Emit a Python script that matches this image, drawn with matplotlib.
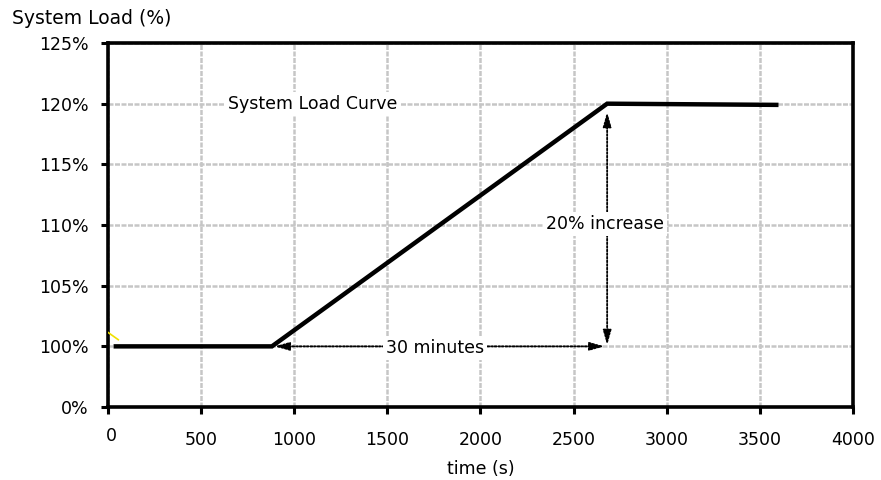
import matplotlib
matplotlib.use("Agg")
import matplotlib.pyplot as plt
from matplotlib.transforms import ScaledTranslation

# System load profile: flat, 30-minute ramp, then flat at the higher level
time_s = [30, 880, 2680, 3600]
load_pct = [100, 100, 120, 119.9]

x_ticks = [0, 500, 1000, 1500, 2000, 2500, 3000, 3500, 4000]
y_ticks = [95, 100, 105, 110, 115, 120, 125]
y_tick_labels = ["0%", "100%", "105%", "110%", "115%", "120%", "125%"]

ramp_start, ramp_end = 880, 2680
load_low, load_high = 100, 120

FS = 12.5
plt.rcParams["font.family"] = ["DejaVu Sans"]
plt.rcParams["font.size"] = FS

fig = plt.figure(figsize=(8.81, 4.8), dpi=100)
ax = fig.add_axes([0.1226, 0.152, 0.8456, 0.7584])

ax.set_xlim(0, 4000)
ax.set_ylim(95, 125)
ax.set_xticks(x_ticks)
ax.set_xticklabels([str(v) for v in x_ticks])
ax.set_yticks(y_ticks)
ax.set_yticklabels(y_tick_labels)

ax.grid(True, color="#c6c6c6", linestyle=(0, (2, 0.6)), linewidth=1.8, zorder=0)
for s in ax.spines.values():
    s.set_linewidth(2.6)
    s.set_color("black")
ax.tick_params(direction="out", length=5, width=2.2, colors="black",
               labelsize=FS)
ax.tick_params(axis="x", pad=12)
ax.tick_params(axis="y", pad=9)

# the zero label sits a little higher and to the right
fig.canvas.draw()
zero_lbl = ax.get_xticklabels()[0]
zero_lbl.set_transform(zero_lbl.get_transform()
                       + ScaledTranslation(3 / 100, 4 / 100, fig.dpi_scale_trans))

# load curve
ax.plot(time_s, load_pct, color="black", linewidth=3.2, solid_capstyle="butt",
        solid_joinstyle="miter", zorder=4)

# small yellow stroke near the start of the curve
ax.plot([0, 55], [101.15, 100.55], color="#f0e000", linewidth=1.2, zorder=3)

# duration arrow
ax.annotate("", xy=(ramp_end, load_low), xytext=(ramp_start, load_low),
            arrowprops=dict(arrowstyle="<|-|>,head_length=0.7,head_width=0.2",
                            color="black", linestyle=(0, (1, 1)), linewidth=1.3,
                            shrinkA=2, shrinkB=2),
            zorder=3)
# increase arrow
ax.annotate("", xy=(ramp_end, load_high), xytext=(ramp_end, load_low),
            arrowprops=dict(arrowstyle="<|-|>,head_length=0.7,head_width=0.2",
                            color="black", linestyle=(0, (1, 1)), linewidth=1.3,
                            shrinkA=1, shrinkB=6),
            zorder=3)

box = dict(facecolor="white", edgecolor="none", pad=2)
ax.text(1100, 120, "System Load Curve", ha="center", va="center",
        bbox=box, zorder=5, fontsize=FS)
ax.text(1755, 99.85, "30 minutes", ha="center", va="center",
        bbox=box, zorder=5, fontsize=FS)
ax.text(2670, 110.1, "20% increase", ha="center", va="center",
        bbox=box, zorder=5, fontsize=FS)

fig.text(12 / 881, 1 - 18 / 480, "System Load (%)", ha="left", va="center",
         fontsize=13.5)
ax.set_xlabel("time (s)", fontsize=FS, labelpad=8)

fig.savefig("out.png", dpi=100)
